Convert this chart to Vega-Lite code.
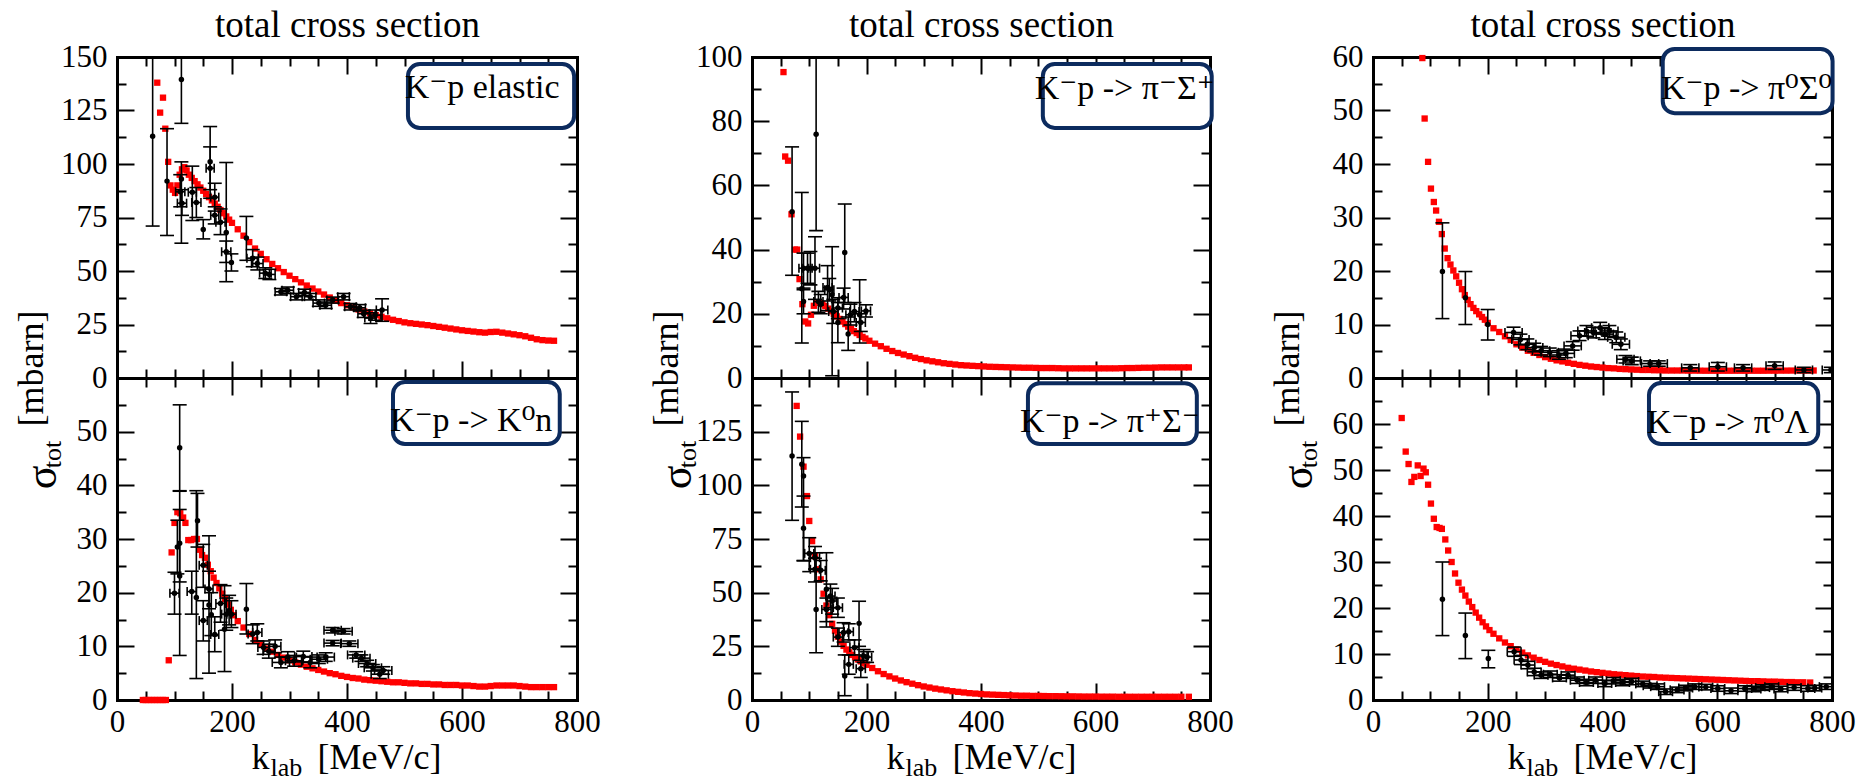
{
"$schema": "https://vega.github.io/schema/vega-lite/v6.json",
"background": "white",
"padding": {"left": 13, "top": 6, "right": 5, "bottom": 5},
"config": {
  "view": {"stroke": null},
  "font": "Liberation Serif",
  "axis": {"domainColor": "black", "domainWidth": 3, "domainCap": "square", "tickColor": "black", "tickWidth": 2, "labelColor": "black", "labelFont": "Liberation Serif", "labelFontSize": 31, "titleFont": "Liberation Serif", "titleFontWeight": "normal", "titleColor": "black", "grid": false, "labelFlush": false, "labelOverlap": false, "zindex": 1},
  "axisX": {"labelPadding": 24},
  "axisY": {"labelPadding": 27}
},
"datasets": {
"red1": [{"x":70,"y":138},{"x":75,"y":124},{"x":80,"y":131},{"x":84,"y":116.5},{"x":89,"y":101},{"x":93,"y":90},{"x":97,"y":88},{"x":101,"y":86.5},{"x":105,"y":90},{"x":109,"y":95},{"x":113,"y":97.5},{"x":117,"y":98.5},{"x":121,"y":97},{"x":125,"y":95},{"x":130,"y":93.5},{"x":135,"y":92},{"x":140,"y":90.5},{"x":145,"y":89},{"x":150,"y":87.5},{"x":155,"y":86},{"x":160,"y":84.5},{"x":165,"y":83},{"x":170,"y":81.5},{"x":175,"y":80},{"x":180,"y":78.5},{"x":185,"y":77},{"x":190,"y":75.5},{"x":195,"y":74},{"x":200,"y":72.5},{"x":210,"y":69.5},{"x":220,"y":66.5},{"x":230,"y":63.5},{"x":240,"y":60.5},{"x":250,"y":58},{"x":260,"y":55.5},{"x":270,"y":53.3},{"x":280,"y":51.3},{"x":290,"y":49.5},{"x":300,"y":47.8},{"x":310,"y":46.2},{"x":320,"y":44.7},{"x":330,"y":43.2},{"x":340,"y":41.8},{"x":350,"y":40.4},{"x":360,"y":39},{"x":370,"y":37.6},{"x":380,"y":36.2},{"x":390,"y":35},{"x":400,"y":34},{"x":410,"y":33},{"x":420,"y":32},{"x":430,"y":31.1},{"x":440,"y":30.2},{"x":450,"y":29.4},{"x":460,"y":28.6},{"x":470,"y":27.9},{"x":480,"y":27.2},{"x":490,"y":26.6},{"x":500,"y":26},{"x":510,"y":25.6},{"x":520,"y":25.3},{"x":530,"y":25},{"x":540,"y":24.7},{"x":550,"y":24.3},{"x":560,"y":23.9},{"x":570,"y":23.5},{"x":580,"y":23.1},{"x":590,"y":22.7},{"x":600,"y":22.3},{"x":610,"y":22},{"x":620,"y":21.7},{"x":630,"y":21.4},{"x":640,"y":21.2},{"x":650,"y":21.5},{"x":660,"y":21.6},{"x":670,"y":21.2},{"x":680,"y":20.8},{"x":690,"y":20.4},{"x":700,"y":20},{"x":710,"y":19.5},{"x":720,"y":18.8},{"x":730,"y":18.1},{"x":740,"y":17.7},{"x":750,"y":17.5},{"x":760,"y":17.4}],
"red2": [{"x":45,"y":0},{"x":50,"y":0},{"x":55,"y":0},{"x":60,"y":0},{"x":65,"y":0},{"x":70,"y":0},{"x":75,"y":0},{"x":80,"y":0},{"x":85,"y":0},{"x":90,"y":7.4},{"x":95,"y":27.5},{"x":100,"y":33},{"x":105,"y":35},{"x":110,"y":34.8},{"x":115,"y":34},{"x":119,"y":33},{"x":124,"y":29.8},{"x":129,"y":29.8},{"x":134,"y":30},{"x":139,"y":30},{"x":144,"y":28},{"x":148,"y":27},{"x":153,"y":26.5},{"x":158,"y":25.2},{"x":163,"y":24},{"x":168,"y":22.8},{"x":173,"y":21.8},{"x":178,"y":20.8},{"x":183,"y":19.8},{"x":188,"y":18.8},{"x":193,"y":17.8},{"x":198,"y":16.8},{"x":203,"y":15.8},{"x":210,"y":14.7},{"x":220,"y":13.5},{"x":230,"y":12.3},{"x":240,"y":11.2},{"x":250,"y":10.3},{"x":260,"y":9.6},{"x":270,"y":9},{"x":280,"y":8.4},{"x":290,"y":7.9},{"x":300,"y":7.4},{"x":310,"y":7},{"x":320,"y":6.6},{"x":330,"y":6.2},{"x":340,"y":5.9},{"x":350,"y":5.6},{"x":360,"y":5.3},{"x":370,"y":5},{"x":380,"y":4.8},{"x":390,"y":4.5},{"x":400,"y":4.3},{"x":410,"y":4.1},{"x":420,"y":4},{"x":430,"y":3.8},{"x":440,"y":3.7},{"x":450,"y":3.6},{"x":460,"y":3.5},{"x":470,"y":3.4},{"x":480,"y":3.3},{"x":490,"y":3.3},{"x":500,"y":3.2},{"x":510,"y":3.1},{"x":520,"y":3.1},{"x":530,"y":3},{"x":540,"y":3},{"x":550,"y":2.9},{"x":560,"y":2.9},{"x":570,"y":2.8},{"x":580,"y":2.8},{"x":590,"y":2.8},{"x":600,"y":2.7},{"x":610,"y":2.7},{"x":620,"y":2.6},{"x":630,"y":2.5},{"x":640,"y":2.5},{"x":650,"y":2.6},{"x":660,"y":2.7},{"x":670,"y":2.7},{"x":680,"y":2.7},{"x":690,"y":2.7},{"x":700,"y":2.6},{"x":710,"y":2.5},{"x":720,"y":2.4},{"x":730,"y":2.4},{"x":740,"y":2.4},{"x":750,"y":2.4},{"x":760,"y":2.4}],
"red3": [{"x":55,"y":95.3},{"x":58,"y":69},{"x":63,"y":67.7},{"x":69,"y":51},{"x":75,"y":40},{"x":79,"y":40},{"x":83,"y":30.8},{"x":88,"y":23},{"x":93,"y":17.6},{"x":98,"y":17},{"x":103,"y":19.7},{"x":108,"y":22.5},{"x":113,"y":23.5},{"x":118,"y":23.4},{"x":123,"y":23},{"x":128,"y":22.4},{"x":133,"y":21.6},{"x":138,"y":20.8},{"x":143,"y":20},{"x":148,"y":19.2},{"x":153,"y":18.4},{"x":158,"y":17.6},{"x":163,"y":16.8},{"x":168,"y":16},{"x":173,"y":15.3},{"x":178,"y":14.6},{"x":183,"y":14},{"x":188,"y":13.4},{"x":193,"y":12.8},{"x":198,"y":12.3},{"x":205,"y":11.6},{"x":215,"y":10.7},{"x":225,"y":9.9},{"x":235,"y":9.1},{"x":245,"y":8.4},{"x":255,"y":7.8},{"x":265,"y":7.3},{"x":275,"y":6.8},{"x":285,"y":6.3},{"x":295,"y":5.9},{"x":305,"y":5.5},{"x":315,"y":5.2},{"x":325,"y":4.9},{"x":335,"y":4.6},{"x":345,"y":4.4},{"x":355,"y":4.2},{"x":365,"y":4},{"x":375,"y":3.9},{"x":385,"y":3.8},{"x":395,"y":3.7},{"x":405,"y":3.6},{"x":415,"y":3.5},{"x":425,"y":3.45},{"x":435,"y":3.4},{"x":445,"y":3.35},{"x":455,"y":3.3},{"x":465,"y":3.25},{"x":475,"y":3.2},{"x":485,"y":3.2},{"x":495,"y":3.15},{"x":505,"y":3.1},{"x":515,"y":3.1},{"x":525,"y":3.1},{"x":535,"y":3.05},{"x":545,"y":3},{"x":555,"y":3},{"x":565,"y":3},{"x":575,"y":3},{"x":585,"y":3},{"x":595,"y":3},{"x":605,"y":3},{"x":615,"y":3},{"x":625,"y":3},{"x":635,"y":3},{"x":645,"y":3.05},{"x":655,"y":3.1},{"x":665,"y":3.1},{"x":675,"y":3.15},{"x":685,"y":3.2},{"x":695,"y":3.2},{"x":705,"y":3.25},{"x":715,"y":3.3},{"x":725,"y":3.3},{"x":735,"y":3.3},{"x":745,"y":3.3},{"x":755,"y":3.3},{"x":763,"y":3.3}],
"red4": [{"x":78,"y":137},{"x":84,"y":122.7},{"x":90,"y":108.7},{"x":96,"y":95},{"x":100,"y":83.4},{"x":105,"y":74},{"x":110,"y":67},{"x":115,"y":60.9},{"x":120,"y":56.2},{"x":125,"y":49.5},{"x":130,"y":44},{"x":135,"y":39.5},{"x":140,"y":35.5},{"x":145,"y":32.3},{"x":150,"y":29.5},{"x":155,"y":27.2},{"x":160,"y":25.2},{"x":165,"y":23.5},{"x":170,"y":22.2},{"x":175,"y":21},{"x":180,"y":19.9},{"x":185,"y":18.9},{"x":190,"y":18},{"x":195,"y":17.2},{"x":200,"y":16.4},{"x":210,"y":14.9},{"x":220,"y":13.4},{"x":230,"y":12.1},{"x":240,"y":11},{"x":250,"y":10},{"x":260,"y":9.1},{"x":270,"y":8.3},{"x":280,"y":7.6},{"x":290,"y":6.9},{"x":300,"y":6.3},{"x":310,"y":5.8},{"x":320,"y":5.3},{"x":330,"y":4.9},{"x":340,"y":4.5},{"x":350,"y":4.1},{"x":360,"y":3.8},{"x":370,"y":3.5},{"x":380,"y":3.2},{"x":390,"y":3},{"x":400,"y":2.8},{"x":410,"y":2.6},{"x":420,"y":2.5},{"x":430,"y":2.4},{"x":440,"y":2.3},{"x":450,"y":2.2},{"x":460,"y":2.1},{"x":470,"y":2},{"x":480,"y":2},{"x":490,"y":1.9},{"x":500,"y":1.9},{"x":510,"y":1.85},{"x":520,"y":1.8},{"x":530,"y":1.8},{"x":540,"y":1.75},{"x":550,"y":1.7},{"x":560,"y":1.7},{"x":570,"y":1.65},{"x":580,"y":1.6},{"x":590,"y":1.6},{"x":600,"y":1.6},{"x":610,"y":1.55},{"x":620,"y":1.55},{"x":630,"y":1.55},{"x":640,"y":1.5},{"x":650,"y":1.5},{"x":660,"y":1.5},{"x":670,"y":1.5},{"x":680,"y":1.5},{"x":690,"y":1.5},{"x":700,"y":1.5},{"x":710,"y":1.5},{"x":720,"y":1.5},{"x":730,"y":1.5},{"x":740,"y":1.5},{"x":750,"y":1.5},{"x":763,"y":1.5}],
"red5": [{"x":86,"y":59.8},{"x":90,"y":48.5},{"x":96,"y":40.4},{"x":101,"y":35.4},{"x":106,"y":32.9},{"x":110,"y":31.3},{"x":115,"y":29.2},{"x":120,"y":26.9},{"x":125,"y":24.2},{"x":130,"y":22.4},{"x":135,"y":21.2},{"x":140,"y":20.1},{"x":145,"y":19},{"x":150,"y":17.8},{"x":155,"y":16.6},{"x":160,"y":15.5},{"x":165,"y":14.6},{"x":170,"y":13.8},{"x":175,"y":13.1},{"x":180,"y":12.5},{"x":185,"y":11.9},{"x":190,"y":11.4},{"x":195,"y":10.9},{"x":200,"y":10.3},{"x":210,"y":9.3},{"x":220,"y":8.6},{"x":230,"y":7.8},{"x":240,"y":7.1},{"x":250,"y":6.3},{"x":260,"y":5.7},{"x":270,"y":5.1},{"x":280,"y":4.7},{"x":290,"y":4.3},{"x":300,"y":3.9},{"x":310,"y":3.6},{"x":320,"y":3.3},{"x":330,"y":3.1},{"x":340,"y":2.85},{"x":350,"y":2.65},{"x":360,"y":2.45},{"x":370,"y":2.3},{"x":380,"y":2.15},{"x":390,"y":2.05},{"x":400,"y":1.95},{"x":410,"y":1.85},{"x":420,"y":1.8},{"x":430,"y":1.7},{"x":440,"y":1.65},{"x":450,"y":1.6},{"x":460,"y":1.55},{"x":470,"y":1.5},{"x":480,"y":1.5},{"x":490,"y":1.45},{"x":500,"y":1.45},{"x":510,"y":1.4},{"x":520,"y":1.4},{"x":530,"y":1.4},{"x":540,"y":1.4},{"x":550,"y":1.38},{"x":560,"y":1.38},{"x":570,"y":1.37},{"x":580,"y":1.36},{"x":590,"y":1.36},{"x":600,"y":1.36},{"x":610,"y":1.36},{"x":620,"y":1.36},{"x":630,"y":1.36},{"x":640,"y":1.36},{"x":650,"y":1.36},{"x":660,"y":1.36},{"x":670,"y":1.36},{"x":680,"y":1.36},{"x":690,"y":1.37},{"x":700,"y":1.37},{"x":710,"y":1.38},{"x":720,"y":1.38},{"x":730,"y":1.39},{"x":740,"y":1.4},{"x":750,"y":1.4},{"x":760,"y":1.4},{"x":768,"y":1.4}],
"red6": [{"x":50,"y":61.3},{"x":57,"y":54},{"x":62,"y":51.3},{"x":67,"y":47.4},{"x":72,"y":48.5},{"x":78,"y":51},{"x":83,"y":48.7},{"x":88,"y":50.3},{"x":92,"y":49.5},{"x":96,"y":46.8},{"x":101,"y":42.7},{"x":106,"y":39.4},{"x":111,"y":37.6},{"x":116,"y":37.4},{"x":120,"y":37.2},{"x":126,"y":34.9},{"x":131,"y":32.5},{"x":137,"y":30},{"x":143,"y":27.5},{"x":149,"y":25.5},{"x":155,"y":24},{"x":161,"y":22.7},{"x":167,"y":21.4},{"x":173,"y":20.2},{"x":179,"y":19},{"x":185,"y":17.9},{"x":191,"y":16.9},{"x":197,"y":16},{"x":203,"y":15.2},{"x":210,"y":14.4},{"x":220,"y":13.4},{"x":230,"y":12.5},{"x":240,"y":11.7},{"x":250,"y":11},{"x":260,"y":10.3},{"x":270,"y":9.7},{"x":280,"y":9.2},{"x":290,"y":8.7},{"x":300,"y":8.3},{"x":310,"y":7.9},{"x":320,"y":7.6},{"x":330,"y":7.3},{"x":340,"y":7},{"x":350,"y":6.8},{"x":360,"y":6.6},{"x":370,"y":6.4},{"x":380,"y":6.2},{"x":390,"y":6.05},{"x":400,"y":5.9},{"x":410,"y":5.75},{"x":420,"y":5.6},{"x":430,"y":5.5},{"x":440,"y":5.4},{"x":450,"y":5.3},{"x":460,"y":5.2},{"x":470,"y":5.1},{"x":480,"y":5.05},{"x":490,"y":5},{"x":500,"y":4.9},{"x":510,"y":4.85},{"x":520,"y":4.8},{"x":530,"y":4.75},{"x":540,"y":4.7},{"x":550,"y":4.65},{"x":560,"y":4.6},{"x":570,"y":4.55},{"x":580,"y":4.5},{"x":590,"y":4.45},{"x":600,"y":4.4},{"x":610,"y":4.35},{"x":620,"y":4.3},{"x":630,"y":4.25},{"x":640,"y":4.2},{"x":650,"y":4.15},{"x":660,"y":4.1},{"x":670,"y":4.1},{"x":680,"y":4.05},{"x":690,"y":4},{"x":700,"y":4},{"x":710,"y":3.95},{"x":720,"y":3.9},{"x":730,"y":3.9},{"x":740,"y":3.85},{"x":750,"y":3.85},{"x":762,"y":3.8}],
"exp1": [{"x":62,"y":113,"yl":71,"yh":155},{"x":87,"y":92,"yl":66.6,"yh":116.5},{"x":112,"y":139.5,"yl":119,"yh":155},{"x":112,"y":93,"yl":63,"yh":101},{"x":110,"y":87,"yl":80,"yh":95,"xl":102,"xh":118},{"x":113,"y":81.7,"yl":76,"yh":88,"xl":105,"xh":121},{"x":131,"y":86.8,"yl":73.6,"yh":99,"xl":124,"xh":138},{"x":138,"y":82,"yl":75,"yh":89,"xl":130,"xh":146},{"x":150,"y":69.4,"yl":65,"yh":74},{"x":162,"y":101,"yl":84,"yh":117.5},{"x":162,"y":98,"yl":88,"yh":108,"xl":155,"xh":169},{"x":170,"y":84.5,"yl":78,"yh":91,"xl":163,"xh":177},{"x":170,"y":76,"yl":72,"yh":80,"xl":163,"xh":177},{"x":180,"y":72.8,"yl":67,"yh":79,"xl":172,"xh":188},{"x":190,"y":68,"yl":45,"yh":100.7},{"x":190,"y":59,"yl":54,"yh":64,"xl":182,"xh":198},{"x":199,"y":54,"yl":50,"yh":58},{"x":225,"y":65.4,"yl":55,"yh":75.5},{"x":236,"y":56,"yl":52,"yh":60,"xl":226,"xh":246},{"x":244,"y":53.5,"yl":50.5,"yh":56.5,"xl":234,"xh":254},{"x":258,"y":49,"yl":46.5,"yh":51.5,"xl":248,"xh":268},{"x":265,"y":48.4,"yl":46,"yh":50.8,"xl":255,"xh":275},{"x":285,"y":40.3,"yl":38.8,"yh":41.8,"xl":275,"xh":295},{"x":297,"y":41,"yl":39.5,"yh":42.5,"xl":287,"xh":307},{"x":312,"y":38,"yl":36.5,"yh":39.5,"xl":302,"xh":322},{"x":326,"y":40,"yl":38.5,"yh":41.5,"xl":316,"xh":336},{"x":336,"y":38,"yl":36.5,"yh":39.5,"xl":326,"xh":346},{"x":351,"y":35,"yl":33.5,"yh":36.5,"xl":341,"xh":361},{"x":363,"y":34,"yl":32.5,"yh":35.5,"xl":353,"xh":373},{"x":375,"y":36.4,"yl":35,"yh":37.8,"xl":365,"xh":385},{"x":394,"y":38,"yl":36.5,"yh":39.5,"xl":384,"xh":404},{"x":406,"y":33.3,"yl":31.8,"yh":34.8,"xl":396,"xh":416},{"x":422,"y":32.8,"yl":31.3,"yh":34.3,"xl":412,"xh":432},{"x":429,"y":30,"yl":28.3,"yh":31.7,"xl":419,"xh":439},{"x":441,"y":28,"yl":25.5,"yh":30.5,"xl":431,"xh":451},{"x":449,"y":29.4,"yl":27,"yh":31.8,"xl":439,"xh":459},{"x":461,"y":31.8,"yl":26.5,"yh":37,"xl":451,"xh":471}],
"exp2": [{"x":100,"y":19.9,"yl":16,"yh":23.8,"xl":92,"xh":108},{"x":105,"y":28.5,"yl":23.5,"yh":33.5},{"x":109,"y":47,"yl":39,"yh":55},{"x":109,"y":29.2,"yl":22,"yh":35.5},{"x":109,"y":23.1,"yl":8.3,"yh":38.9},{"x":130,"y":20.2,"yl":16,"yh":24,"xl":122,"xh":138},{"x":138,"y":19.1,"yl":4,"yh":39},{"x":140,"y":33.4,"yl":28.5,"yh":38.5},{"x":150,"y":25.1,"yl":21,"yh":29,"xl":143,"xh":157},{"x":150,"y":14.8,"yl":11,"yh":18.5,"xl":143,"xh":157},{"x":160,"y":20.7,"yl":17,"yh":24,"xl":153,"xh":167},{"x":160,"y":17.7,"yl":5,"yh":30.6},{"x":164,"y":15.9,"yl":12,"yh":20},{"x":170,"y":12.2,"yl":9,"yh":15.5,"xl":163,"xh":177},{"x":180,"y":18,"yl":14.5,"yh":21.5,"xl":172,"xh":188},{"x":187,"y":13.2,"yl":5.3,"yh":21.3},{"x":190,"y":16,"yl":13,"yh":19,"xl":182,"xh":198},{"x":195,"y":16.7,"yl":14,"yh":19.5},{"x":199,"y":16,"yl":13.5,"yh":18.5,"xl":191,"xh":207},{"x":225,"y":16.9,"yl":12.3,"yh":21.7},{"x":236,"y":12.3,"yl":10.5,"yh":14,"xl":228,"xh":244},{"x":244,"y":12.6,"yl":11,"yh":14.2,"xl":236,"xh":252},{"x":255,"y":9.8,"yl":8.5,"yh":11,"xl":245,"xh":265},{"x":264,"y":9.1,"yl":7.8,"yh":10.4,"xl":254,"xh":274},{"x":275,"y":10,"yl":8.8,"yh":11.2,"xl":265,"xh":285},{"x":285,"y":7,"yl":6,"yh":8,"xl":270,"xh":300},{"x":297,"y":8,"yl":7,"yh":9,"xl":282,"xh":312},{"x":308,"y":7.3,"yl":6.3,"yh":8.3,"xl":293,"xh":323},{"x":324,"y":8.1,"yl":7.1,"yh":9.1,"xl":309,"xh":339},{"x":336,"y":7,"yl":6,"yh":8,"xl":321,"xh":351},{"x":351,"y":7.6,"yl":6.8,"yh":8.4,"xl":336,"xh":366},{"x":363,"y":8,"yl":7.2,"yh":8.8,"xl":348,"xh":378},{"x":375,"y":10.6,"yl":10.1,"yh":11.1,"xl":360,"xh":390},{"x":375,"y":13,"yl":12.5,"yh":13.5,"xl":360,"xh":390},{"x":394,"y":12.8,"yl":12.3,"yh":13.3,"xl":379,"xh":409},{"x":404,"y":10.5,"yl":10,"yh":11,"xl":389,"xh":419},{"x":416,"y":8.4,"yl":7.8,"yh":9,"xl":401,"xh":431},{"x":425,"y":7.8,"yl":7.2,"yh":8.4,"xl":410,"xh":440},{"x":435,"y":6.8,"yl":6.2,"yh":7.4,"xl":420,"xh":450},{"x":445,"y":6,"yl":5.4,"yh":6.6,"xl":430,"xh":460},{"x":457,"y":4.8,"yl":4,"yh":5.6,"xl":442,"xh":472},{"x":463,"y":5.5,"yl":4.8,"yh":6.2,"xl":448,"xh":478}],
"exp3": [{"x":70,"y":51.8,"yl":32,"yh":72},{"x":87,"y":27.8,"yl":10.9,"yh":57.8},{"x":90,"y":34.2,"yl":28,"yh":38.9,"xl":82,"xh":98},{"x":90,"y":23.8,"yl":20,"yh":27.5},{"x":97,"y":34.2,"yl":29.5,"yh":38.9,"xl":89,"xh":105},{"x":102,"y":34.2,"yl":29,"yh":39.4},{"x":110,"y":34.2,"yl":24.5,"yh":44,"xl":102,"xh":118},{"x":112,"y":75.9,"yl":45.9,"yh":106},{"x":116,"y":23.8,"yl":20.5,"yh":27,"xl":108,"xh":124},{"x":120,"y":23,"yl":20,"yh":26},{"x":132,"y":28.2,"yl":21,"yh":35,"xl":124,"xh":140},{"x":135,"y":27.5,"yl":24,"yh":31,"xl":127,"xh":143},{"x":140,"y":25.9,"yl":0.7,"yh":40.9},{"x":142,"y":20.7,"yl":17,"yh":24.5,"xl":134,"xh":150},{"x":150,"y":17.3,"yl":11,"yh":23.5},{"x":150,"y":21.8,"yl":18.5,"yh":25,"xl":142,"xh":158},{"x":160,"y":25.1,"yl":21.5,"yh":28,"xl":152,"xh":168},{"x":162,"y":39.1,"yl":23.5,"yh":54.2},{"x":168,"y":13.7,"yl":8.6,"yh":19},{"x":172,"y":19.7,"yl":16.5,"yh":23,"xl":164,"xh":180},{"x":179,"y":20.7,"yl":17.5,"yh":23.5,"xl":171,"xh":187},{"x":188,"y":19.7,"yl":10.9,"yh":30.6},{"x":190,"y":17.3,"yl":14.5,"yh":20,"xl":182,"xh":198},{"x":199,"y":20.9,"yl":19,"yh":22.8,"xl":191,"xh":207}],
"exp4": [{"x":70,"y":113.7,"yl":83.7,"yh":143.5},{"x":87,"y":109.8,"yl":89.9,"yh":129.8},{"x":90,"y":104.3,"yl":64.8,"yh":112.9},{"x":90,"y":80,"yl":65,"yh":95},{"x":100,"y":68.3,"yl":59.8,"yh":75.6,"xl":92,"xh":108},{"x":110,"y":66.3,"yl":61,"yh":71.5,"xl":102,"xh":118},{"x":110,"y":60.9,"yl":55,"yh":66,"xl":102,"xh":118},{"x":112,"y":42.2,"yl":22,"yh":68.6},{"x":120,"y":60.4,"yl":55.5,"yh":65,"xl":112,"xh":128},{"x":130,"y":51.6,"yl":34,"yh":68.6},{"x":130,"y":42.2,"yl":36.5,"yh":47.5,"xl":122,"xh":138},{"x":137,"y":48.4,"yl":43,"yh":54,"xl":129,"xh":145},{"x":140,"y":46.1,"yl":40,"yh":52,"xl":132,"xh":148},{"x":150,"y":43,"yl":38.5,"yh":47.5,"xl":142,"xh":158},{"x":150,"y":29.3,"yl":25,"yh":33.5,"xl":142,"xh":158},{"x":160,"y":31.4,"yl":27,"yh":36,"xl":152,"xh":168},{"x":162,"y":11.2,"yl":2,"yh":21},{"x":169,"y":31.8,"yl":28,"yh":35.5,"xl":161,"xh":177},{"x":169,"y":16.6,"yl":12,"yh":21,"xl":161,"xh":177},{"x":179,"y":24.4,"yl":21,"yh":28,"xl":171,"xh":187},{"x":187,"y":35.7,"yl":25,"yh":46},{"x":190,"y":14.6,"yl":10.5,"yh":18.5,"xl":182,"xh":198},{"x":195,"y":20.5,"yl":17.5,"yh":23.5,"xl":187,"xh":203},{"x":201,"y":20,"yl":17.5,"yh":22.5,"xl":193,"xh":209}],
"exp5": [{"x":121,"y":19.9,"yl":11.1,"yh":29},{"x":161,"y":15,"yl":10,"yh":19.9},{"x":200,"y":10,"yl":7.1,"yh":12.8},{"x":245,"y":8.5,"yl":7.5,"yh":9.5,"xl":230,"xh":260},{"x":257,"y":7.2,"yl":6.2,"yh":8.2,"xl":242,"xh":272},{"x":269,"y":6.3,"yl":5.3,"yh":7.3,"xl":254,"xh":284},{"x":281,"y":5.7,"yl":4.9,"yh":6.5,"xl":266,"xh":296},{"x":293,"y":5.1,"yl":4.3,"yh":5.9,"xl":278,"xh":308},{"x":308,"y":4.8,"yl":4,"yh":5.6,"xl":293,"xh":323},{"x":324,"y":4.3,"yl":3.5,"yh":5.1,"xl":309,"xh":339},{"x":336,"y":4.6,"yl":3.8,"yh":5.4,"xl":321,"xh":351},{"x":348,"y":6,"yl":5.2,"yh":6.8,"xl":333,"xh":363},{"x":360,"y":7.9,"yl":7,"yh":8.8,"xl":345,"xh":375},{"x":372,"y":8.8,"yl":7.8,"yh":9.8,"xl":357,"xh":387},{"x":384,"y":8.5,"yl":7.5,"yh":9.5,"xl":369,"xh":399},{"x":396,"y":9.4,"yl":8.4,"yh":10.4,"xl":381,"xh":411},{"x":404,"y":8.2,"yl":7.2,"yh":9.2,"xl":389,"xh":419},{"x":412,"y":8.8,"yl":7.8,"yh":9.8,"xl":397,"xh":427},{"x":424,"y":7.6,"yl":6.6,"yh":8.6,"xl":409,"xh":439},{"x":432,"y":6.3,"yl":5.3,"yh":7.3,"xl":417,"xh":447},{"x":440,"y":3.5,"yl":2.8,"yh":4.2,"xl":425,"xh":455},{"x":451,"y":3.2,"yl":2.5,"yh":3.9,"xl":436,"xh":466},{"x":483,"y":2.7,"yl":2.2,"yh":3.2,"xl":468,"xh":498},{"x":498,"y":2.7,"yl":2.2,"yh":3.2,"xl":483,"xh":513},{"x":553,"y":1.9,"yl":1.3,"yh":2.5,"xl":538,"xh":568},{"x":601,"y":2.1,"yl":1.3,"yh":2.9,"xl":586,"xh":616},{"x":645,"y":1.9,"yl":1.3,"yh":2.5,"xl":630,"xh":660},{"x":700,"y":2.3,"yl":1.6,"yh":3,"xl":685,"xh":715},{"x":751,"y":1.5,"yl":1,"yh":2,"xl":736,"xh":766},{"x":798,"y":1.5,"yl":1,"yh":2,"xl":783,"xh":813}],
"exp6": [{"x":121,"y":21.9,"yl":14,"yh":30},{"x":161,"y":14,"yl":9,"yh":18.9},{"x":201,"y":9,"yl":7,"yh":10.8},{"x":246,"y":10.5,"yl":9.5,"yh":11.5,"xl":234,"xh":258},{"x":258,"y":8.7,"yl":7.7,"yh":9.7,"xl":246,"xh":270},{"x":270,"y":7.6,"yl":6.8,"yh":8.4,"xl":258,"xh":282},{"x":281,"y":6.1,"yl":5.3,"yh":6.9,"xl":269,"xh":293},{"x":293,"y":5.4,"yl":4.7,"yh":6.1,"xl":281,"xh":305},{"x":309,"y":5.6,"yl":4.9,"yh":6.3,"xl":297,"xh":321},{"x":325,"y":4.8,"yl":4.1,"yh":5.5,"xl":313,"xh":337},{"x":340,"y":5.4,"yl":4.7,"yh":6.1,"xl":328,"xh":352},{"x":356,"y":4.3,"yl":3.6,"yh":5,"xl":344,"xh":368},{"x":372,"y":3.8,"yl":3.1,"yh":4.5,"xl":360,"xh":384},{"x":388,"y":4.3,"yl":3.6,"yh":5,"xl":376,"xh":400},{"x":404,"y":3.6,"yl":2.9,"yh":4.3,"xl":392,"xh":416},{"x":419,"y":4.2,"yl":3.5,"yh":4.9,"xl":407,"xh":431},{"x":435,"y":3.8,"yl":3.1,"yh":4.5,"xl":423,"xh":447},{"x":451,"y":4,"yl":3.3,"yh":4.7,"xl":439,"xh":463},{"x":470,"y":3.5,"yl":2.9,"yh":4.1,"xl":458,"xh":482},{"x":483,"y":3.1,"yl":2.6,"yh":3.6,"xl":471,"xh":495},{"x":496,"y":2.9,"yl":2.3,"yh":3.5,"xl":484,"xh":508},{"x":510,"y":1.8,"yl":1.2,"yh":2.4,"xl":498,"xh":522},{"x":530,"y":2.2,"yl":1.6,"yh":2.8,"xl":518,"xh":542},{"x":545,"y":2.6,"yl":2,"yh":3.2,"xl":533,"xh":557},{"x":561,"y":2.9,"yl":2.3,"yh":3.5,"xl":549,"xh":573},{"x":580,"y":2.8,"yl":2.2,"yh":3.4,"xl":568,"xh":592},{"x":601,"y":2.5,"yl":1.9,"yh":3.1,"xl":589,"xh":613},{"x":624,"y":2,"yl":1.4,"yh":2.6,"xl":612,"xh":636},{"x":648,"y":2.5,"yl":1.9,"yh":3.1,"xl":636,"xh":660},{"x":664,"y":2.4,"yl":1.8,"yh":3,"xl":652,"xh":676},{"x":679,"y":2.7,"yl":2.1,"yh":3.3,"xl":667,"xh":691},{"x":695,"y":2.9,"yl":2.3,"yh":3.5,"xl":683,"xh":707},{"x":711,"y":2.4,"yl":1.8,"yh":3,"xl":699,"xh":723},{"x":734,"y":2.7,"yl":2.1,"yh":3.3,"xl":722,"xh":746},{"x":758,"y":2.5,"yl":1.9,"yh":3.1,"xl":746,"xh":770},{"x":770,"y":2.6,"yl":2,"yh":3.2,"xl":758,"xh":782},{"x":790,"y":2.9,"yl":2.3,"yh":3.5,"xl":778,"xh":802}]
},
"spacing": 635,
"bounds": "flush",
"hconcat": [
{
 "spacing": 0, "bounds": "flush",
 "vconcat": [
  {
   "width": 460, "height": 321,
   "resolve": {"axis": {"x": "independent", "y": "independent"}},
   "layer": [
    {"data": {"name": "red1"}, "mark": {"type": "square", "size": 40, "color": "#ff0000", "opacity": 1},
     "encoding": {
      "x": {"field": "x", "type": "quantitative", "scale": {"domain": [0, 800], "nice": false, "zero": false},
            "axis": {"orient": "bottom", "values": [0,50,100,150,200,250,300,350,400,450,500,550,600,650,700,750,800], "labels": false, "tickSize": {"condition": {"test": "datum.value % 200 === 0", "value": -17}, "value": -9}, "title": "[MeV/c]", "titleX": 200, "titleY": 390, "titleAlign": "left", "titleBaseline": "alphabetic", "titleAngle": 0, "titleFontSize": 36}},
      "y": {"field": "y", "type": "quantitative", "scale": {"domain": [0, 150], "nice": false, "zero": false},
            "axis": {"orient": "left", "values": [0,12.5,25,37.5,50,62.5,75,87.5,100,112.5,125,137.5,150], "labelExpr": "datum.value % 25 === 0 ? datum.label : ''", "tickSize": {"condition": {"test": "datum.value % 25 === 0", "value": -17}, "value": -9}, "title": "[mbarn]", "titleX": -75, "titleY": 311, "titleAlign": "center", "titleBaseline": "alphabetic", "titleAngle": 270, "titleFontSize": 36}}
     }},
    {"data": {"name": "exp1"}, "mark": {"type": "rule", "color": "black", "strokeWidth": 1.6, "clip": true},
     "encoding": {"x": {"field": "x", "type": "quantitative", "axis": null}, "y": {"field": "yl", "type": "quantitative", "axis": null}, "y2": {"field": "yh"}}},
    {"data": {"name": "exp1"}, "transform": [{"fold": ["yl", "yh"]}], "mark": {"type": "tick", "orient": "horizontal", "size": 14, "thickness": 1.6, "color": "black", "opacity": 1, "clip": true},
     "encoding": {"x": {"field": "x", "type": "quantitative", "axis": null}, "y": {"field": "value", "type": "quantitative", "axis": null}}},
    {"data": {"name": "exp1"}, "transform": [{"filter": "isValid(datum.xl)"}], "mark": {"type": "rule", "color": "black", "strokeWidth": 1.6, "clip": true},
     "encoding": {"x": {"field": "xl", "type": "quantitative", "axis": null}, "x2": {"field": "xh"}, "y": {"field": "y", "type": "quantitative", "axis": null}}},
    {"data": {"name": "exp1"}, "transform": [{"filter": "isValid(datum.xl)"}, {"fold": ["xl", "xh"]}], "mark": {"type": "tick", "orient": "vertical", "size": 9, "thickness": 1.6, "color": "black", "opacity": 1, "clip": true},
     "encoding": {"x": {"field": "value", "type": "quantitative", "axis": null}, "y": {"field": "y", "type": "quantitative", "axis": null}}},
    {"data": {"name": "exp1"}, "mark": {"type": "circle", "size": 30, "color": "black", "opacity": 1},
     "encoding": {
      "x": {"field": "x", "type": "quantitative", "axis": {"orient": "top", "values": [0,50,100,150,200,250,300,350,400,450,500,550,600,650,700,750,800], "labels": false, "tickSize": {"condition": {"test": "datum.value % 200 === 0", "value": -17}, "value": -9}, "title": "total cross section", "titleX": 230, "titleY": -21, "titleAlign": "center", "titleBaseline": "alphabetic", "titleAngle": 0, "titleFontSize": 37}},
      "y": {"field": "y", "type": "quantitative", "axis": {"orient": "right", "values": [0,12.5,25,37.5,50,62.5,75,87.5,100,112.5,125,137.5,150], "labels": false, "tickSize": {"condition": {"test": "datum.value % 25 === 0", "value": -17}, "value": -9}, "title": null}}
     }},
    {"data": {"values": [{"t": "K⁻p elastic"}]}, "mark": {"type": "rect", "fill": "white", "stroke": "#0c2b5e", "strokeWidth": 4, "cornerRadius": 12},
     "encoding": {"x": {"datum": 506, "type": "quantitative", "axis": null}, "x2": {"datum": 795}, "y": {"datum": 116.8, "type": "quantitative", "axis": null}, "y2": {"datum": 146.7}}},
    {"data": {"values": [{"t": "K⁻p elastic"}]}, "mark": {"type": "text", "font": "Liberation Serif, DejaVu Serif", "fontSize": 34, "baseline": "alphabetic", "align": "center", "color": "black"},
     "encoding": {"x": {"datum": 635, "type": "quantitative", "axis": null}, "y": {"datum": 130.8, "type": "quantitative", "axis": null}, "text": {"field": "t"}}}
   ]
  },
  {
   "width": 460, "height": 322,
   "resolve": {"axis": {"x": "independent", "y": "independent"}},
   "layer": [
    {"data": {"name": "red2"}, "mark": {"type": "square", "size": 40, "color": "#ff0000", "opacity": 1},
     "encoding": {
      "x": {"field": "x", "type": "quantitative", "scale": {"domain": [0, 800], "nice": false, "zero": false},
            "axis": {"orient": "bottom", "values": [0,50,100,150,200,250,300,350,400,450,500,550,600,650,700,750,800], "labelExpr": "datum.value % 200 === 0 ? datum.label : ''", "tickSize": {"condition": {"test": "datum.value % 200 === 0", "value": -17}, "value": -9}, "title": "k", "titleX": 143, "titleY": 68, "titleAlign": "center", "titleBaseline": "alphabetic", "titleAngle": 0, "titleFontSize": 36}},
      "y": {"field": "y", "type": "quantitative", "scale": {"domain": [0, 60], "nice": false, "zero": false},
            "axis": {"orient": "left", "values": [0,5,10,15,20,25,30,35,40,45,50,55,60], "labelExpr": "datum.value % 10 === 0 && datum.value < 60 ? datum.label : ''", "tickSize": {"condition": {"test": "datum.value % 10 === 0", "value": -17}, "value": -9}, "title": "σ", "titleX": -62, "titleY": 99, "titleAlign": "center", "titleBaseline": "alphabetic", "titleAngle": 270, "titleFontSize": 44}}
     }},
    {"data": {"name": "exp2"}, "mark": {"type": "rule", "color": "black", "strokeWidth": 1.6, "clip": true},
     "encoding": {"x": {"field": "x", "type": "quantitative", "axis": null}, "y": {"field": "yl", "type": "quantitative", "axis": null}, "y2": {"field": "yh"}}},
    {"data": {"name": "exp2"}, "transform": [{"fold": ["yl", "yh"]}], "mark": {"type": "tick", "orient": "horizontal", "size": 14, "thickness": 1.6, "color": "black", "opacity": 1, "clip": true},
     "encoding": {"x": {"field": "x", "type": "quantitative", "axis": null}, "y": {"field": "value", "type": "quantitative", "axis": null}}},
    {"data": {"name": "exp2"}, "transform": [{"filter": "isValid(datum.xl)"}], "mark": {"type": "rule", "color": "black", "strokeWidth": 1.6, "clip": true},
     "encoding": {"x": {"field": "xl", "type": "quantitative", "axis": null}, "x2": {"field": "xh"}, "y": {"field": "y", "type": "quantitative", "axis": null}}},
    {"data": {"name": "exp2"}, "transform": [{"filter": "isValid(datum.xl)"}, {"fold": ["xl", "xh"]}], "mark": {"type": "tick", "orient": "vertical", "size": 9, "thickness": 1.6, "color": "black", "opacity": 1, "clip": true},
     "encoding": {"x": {"field": "value", "type": "quantitative", "axis": null}, "y": {"field": "y", "type": "quantitative", "axis": null}}},
    {"data": {"name": "exp2"}, "mark": {"type": "circle", "size": 30, "color": "black", "opacity": 1},
     "encoding": {
      "x": {"field": "x", "type": "quantitative", "axis": {"orient": "top", "values": [0,50,100,150,200,250,300,350,400,450,500,550,600,650,700,750,800], "labels": false, "tickSize": {"condition": {"test": "datum.value % 200 === 0", "value": -17}, "value": -9}, "title": "lab", "titleX": 153, "titleY": 397, "titleAlign": "left", "titleBaseline": "alphabetic", "titleAngle": 0, "titleFontSize": 26}},
      "y": {"field": "y", "type": "quantitative", "axis": {"orient": "right", "values": [0,5,10,15,20,25,30,35,40,45,50,55,60], "labels": false, "tickSize": {"condition": {"test": "datum.value % 10 === 0", "value": -17}, "value": -9}, "title": "tot", "titleX": -517, "titleY": 76, "titleAlign": "center", "titleBaseline": "alphabetic", "titleAngle": 270, "titleFontSize": 26}}
     }},
    {"data": {"values": [{"t": "K⁻p -> K⁰n"}]}, "mark": {"type": "rect", "fill": "white", "stroke": "#0c2b5e", "strokeWidth": 4, "cornerRadius": 12},
     "encoding": {"x": {"datum": 480, "type": "quantitative", "axis": null}, "x2": {"datum": 770}, "y": {"datum": 47.7, "type": "quantitative", "axis": null}, "y2": {"datum": 59.25}}},
    {"data": {"values": [{"t": "K⁻p -> K⁰n"}]}, "mark": {"type": "text", "font": "Liberation Serif, DejaVu Serif", "fontSize": 34, "baseline": "alphabetic", "align": "center", "color": "black"},
     "encoding": {"x": {"datum": 616, "type": "quantitative", "axis": null}, "y": {"datum": 50.1, "type": "quantitative", "axis": null}, "text": {"field": "t"}}}
   ]
  }
 ]
},
{
 "spacing": 621, "bounds": "flush",
 "hconcat": [
 {
 "spacing": 0, "bounds": "flush",
 "vconcat": [
  {
   "width": 458, "height": 321,
   "resolve": {"axis": {"x": "independent", "y": "independent"}},
   "layer": [
    {"data": {"name": "red3"}, "mark": {"type": "square", "size": 40, "color": "#ff0000", "opacity": 1},
     "encoding": {
      "x": {"field": "x", "type": "quantitative", "scale": {"domain": [0, 800], "nice": false, "zero": false},
            "axis": {"orient": "bottom", "values": [0,50,100,150,200,250,300,350,400,450,500,550,600,650,700,750,800], "labels": false, "tickSize": {"condition": {"test": "datum.value % 200 === 0", "value": -17}, "value": -9}, "title": "[MeV/c]", "titleX": 200, "titleY": 390, "titleAlign": "left", "titleBaseline": "alphabetic", "titleAngle": 0, "titleFontSize": 36}},
      "y": {"field": "y", "type": "quantitative", "scale": {"domain": [0, 100], "nice": false, "zero": false},
            "axis": {"orient": "left", "values": [0,10,20,30,40,50,60,70,80,90,100], "labelExpr": "datum.value % 20 === 0 ? datum.label : ''", "tickSize": {"condition": {"test": "datum.value % 20 === 0", "value": -17}, "value": -9}, "title": "[mbarn]", "titleX": -75, "titleY": 311, "titleAlign": "center", "titleBaseline": "alphabetic", "titleAngle": 270, "titleFontSize": 36}}
     }},
    {"data": {"name": "exp3"}, "mark": {"type": "rule", "color": "black", "strokeWidth": 1.6, "clip": true},
     "encoding": {"x": {"field": "x", "type": "quantitative", "axis": null}, "y": {"field": "yl", "type": "quantitative", "axis": null}, "y2": {"field": "yh"}}},
    {"data": {"name": "exp3"}, "transform": [{"fold": ["yl", "yh"]}], "mark": {"type": "tick", "orient": "horizontal", "size": 14, "thickness": 1.6, "color": "black", "opacity": 1, "clip": true},
     "encoding": {"x": {"field": "x", "type": "quantitative", "axis": null}, "y": {"field": "value", "type": "quantitative", "axis": null}}},
    {"data": {"name": "exp3"}, "transform": [{"filter": "isValid(datum.xl)"}], "mark": {"type": "rule", "color": "black", "strokeWidth": 1.6, "clip": true},
     "encoding": {"x": {"field": "xl", "type": "quantitative", "axis": null}, "x2": {"field": "xh"}, "y": {"field": "y", "type": "quantitative", "axis": null}}},
    {"data": {"name": "exp3"}, "transform": [{"filter": "isValid(datum.xl)"}, {"fold": ["xl", "xh"]}], "mark": {"type": "tick", "orient": "vertical", "size": 9, "thickness": 1.6, "color": "black", "opacity": 1, "clip": true},
     "encoding": {"x": {"field": "value", "type": "quantitative", "axis": null}, "y": {"field": "y", "type": "quantitative", "axis": null}}},
    {"data": {"name": "exp3"}, "mark": {"type": "circle", "size": 30, "color": "black", "opacity": 1},
     "encoding": {
      "x": {"field": "x", "type": "quantitative", "axis": {"orient": "top", "values": [0,50,100,150,200,250,300,350,400,450,500,550,600,650,700,750,800], "labels": false, "tickSize": {"condition": {"test": "datum.value % 200 === 0", "value": -17}, "value": -9}, "title": "total cross section", "titleX": 229, "titleY": -21, "titleAlign": "center", "titleBaseline": "alphabetic", "titleAngle": 0, "titleFontSize": 37}},
      "y": {"field": "y", "type": "quantitative", "axis": {"orient": "right", "values": [0,10,20,30,40,50,60,70,80,90,100], "labels": false, "tickSize": {"condition": {"test": "datum.value % 20 === 0", "value": -17}, "value": -9}, "title": null}}
     }},
    {"data": {"values": [{"t": "K⁻p -> π⁻Σ⁺"}]}, "mark": {"type": "rect", "fill": "white", "stroke": "#0c2b5e", "strokeWidth": 4, "cornerRadius": 12},
     "encoding": {"x": {"datum": 508, "type": "quantitative", "axis": null}, "x2": {"datum": 803}, "y": {"datum": 77.9, "type": "quantitative", "axis": null}, "y2": {"datum": 97.8}}},
    {"data": {"values": [{"t": "K⁻p -> π⁻Σ⁺"}]}, "mark": {"type": "text", "font": "Liberation Serif, DejaVu Serif", "fontSize": 34, "baseline": "alphabetic", "align": "center", "color": "black"},
     "encoding": {"x": {"datum": 651, "type": "quantitative", "axis": null}, "y": {"datum": 86.9, "type": "quantitative", "axis": null}, "text": {"field": "t"}}}
   ]
  },
  {
   "width": 458, "height": 322,
   "resolve": {"axis": {"x": "independent", "y": "independent"}},
   "layer": [
    {"data": {"name": "red4"}, "mark": {"type": "square", "size": 40, "color": "#ff0000", "opacity": 1},
     "encoding": {
      "x": {"field": "x", "type": "quantitative", "scale": {"domain": [0, 800], "nice": false, "zero": false},
            "axis": {"orient": "bottom", "values": [0,50,100,150,200,250,300,350,400,450,500,550,600,650,700,750,800], "labelExpr": "datum.value % 200 === 0 ? datum.label : ''", "tickSize": {"condition": {"test": "datum.value % 200 === 0", "value": -17}, "value": -9}, "title": "k", "titleX": 143, "titleY": 68, "titleAlign": "center", "titleBaseline": "alphabetic", "titleAngle": 0, "titleFontSize": 36}},
      "y": {"field": "y", "type": "quantitative", "scale": {"domain": [0, 150], "nice": false, "zero": false},
            "axis": {"orient": "left", "values": [0,12.5,25,37.5,50,62.5,75,87.5,100,112.5,125,137.5,150], "labelExpr": "datum.value % 25 === 0 && datum.value < 150 ? datum.label : ''", "tickSize": {"condition": {"test": "datum.value % 25 === 0", "value": -17}, "value": -9}, "title": "σ", "titleX": -62, "titleY": 99, "titleAlign": "center", "titleBaseline": "alphabetic", "titleAngle": 270, "titleFontSize": 44}}
     }},
    {"data": {"name": "exp4"}, "mark": {"type": "rule", "color": "black", "strokeWidth": 1.6, "clip": true},
     "encoding": {"x": {"field": "x", "type": "quantitative", "axis": null}, "y": {"field": "yl", "type": "quantitative", "axis": null}, "y2": {"field": "yh"}}},
    {"data": {"name": "exp4"}, "transform": [{"fold": ["yl", "yh"]}], "mark": {"type": "tick", "orient": "horizontal", "size": 14, "thickness": 1.6, "color": "black", "opacity": 1, "clip": true},
     "encoding": {"x": {"field": "x", "type": "quantitative", "axis": null}, "y": {"field": "value", "type": "quantitative", "axis": null}}},
    {"data": {"name": "exp4"}, "transform": [{"filter": "isValid(datum.xl)"}], "mark": {"type": "rule", "color": "black", "strokeWidth": 1.6, "clip": true},
     "encoding": {"x": {"field": "xl", "type": "quantitative", "axis": null}, "x2": {"field": "xh"}, "y": {"field": "y", "type": "quantitative", "axis": null}}},
    {"data": {"name": "exp4"}, "transform": [{"filter": "isValid(datum.xl)"}, {"fold": ["xl", "xh"]}], "mark": {"type": "tick", "orient": "vertical", "size": 9, "thickness": 1.6, "color": "black", "opacity": 1, "clip": true},
     "encoding": {"x": {"field": "value", "type": "quantitative", "axis": null}, "y": {"field": "y", "type": "quantitative", "axis": null}}},
    {"data": {"name": "exp4"}, "mark": {"type": "circle", "size": 30, "color": "black", "opacity": 1},
     "encoding": {
      "x": {"field": "x", "type": "quantitative", "axis": {"orient": "top", "values": [0,50,100,150,200,250,300,350,400,450,500,550,600,650,700,750,800], "labels": false, "tickSize": {"condition": {"test": "datum.value % 200 === 0", "value": -17}, "value": -9}, "title": "lab", "titleX": 153, "titleY": 397, "titleAlign": "left", "titleBaseline": "alphabetic", "titleAngle": 0, "titleFontSize": 26}},
      "y": {"field": "y", "type": "quantitative", "axis": {"orient": "right", "values": [0,12.5,25,37.5,50,62.5,75,87.5,100,112.5,125,137.5,150], "labels": false, "tickSize": {"condition": {"test": "datum.value % 25 === 0", "value": -17}, "value": -9}, "title": "tot", "titleX": -515, "titleY": 76, "titleAlign": "center", "titleBaseline": "alphabetic", "titleAngle": 270, "titleFontSize": 26}}
     }},
    {"data": {"values": [{"t": "K⁻p -> π⁺Σ⁻"}]}, "mark": {"type": "rect", "fill": "white", "stroke": "#0c2b5e", "strokeWidth": 4, "cornerRadius": 12},
     "encoding": {"x": {"datum": 482, "type": "quantitative", "axis": null}, "x2": {"datum": 777}, "y": {"datum": 119.2, "type": "quantitative", "axis": null}, "y2": {"datum": 147.6}}},
    {"data": {"values": [{"t": "K⁻p -> π⁺Σ⁻"}]}, "mark": {"type": "text", "font": "Liberation Serif, DejaVu Serif", "fontSize": 34, "baseline": "alphabetic", "align": "center", "color": "black"},
     "encoding": {"x": {"datum": 625, "type": "quantitative", "axis": null}, "y": {"datum": 124.8, "type": "quantitative", "axis": null}, "text": {"field": "t"}}}
   ]
  }
 ]
 },
 {
 "spacing": 0, "bounds": "flush",
 "vconcat": [
  {
   "width": 459, "height": 321,
   "resolve": {"axis": {"x": "independent", "y": "independent"}},
   "layer": [
    {"data": {"name": "red5"}, "mark": {"type": "square", "size": 40, "color": "#ff0000", "opacity": 1},
     "encoding": {
      "x": {"field": "x", "type": "quantitative", "scale": {"domain": [0, 800], "nice": false, "zero": false},
            "axis": {"orient": "bottom", "values": [0,50,100,150,200,250,300,350,400,450,500,550,600,650,700,750,800], "labels": false, "tickSize": {"condition": {"test": "datum.value % 200 === 0", "value": -17}, "value": -9}, "title": "[MeV/c]", "titleX": 200, "titleY": 390, "titleAlign": "left", "titleBaseline": "alphabetic", "titleAngle": 0, "titleFontSize": 36}},
      "y": {"field": "y", "type": "quantitative", "scale": {"domain": [0, 60], "nice": false, "zero": false},
            "axis": {"orient": "left", "values": [0,5,10,15,20,25,30,35,40,45,50,55,60], "labelExpr": "datum.value % 10 === 0 ? datum.label : ''", "tickSize": {"condition": {"test": "datum.value % 10 === 0", "value": -17}, "value": -9}, "title": "[mbarn]", "titleX": -75, "titleY": 311, "titleAlign": "center", "titleBaseline": "alphabetic", "titleAngle": 270, "titleFontSize": 36}}
     }},
    {"data": {"name": "exp5"}, "mark": {"type": "rule", "color": "black", "strokeWidth": 1.6, "clip": true},
     "encoding": {"x": {"field": "x", "type": "quantitative", "axis": null}, "y": {"field": "yl", "type": "quantitative", "axis": null}, "y2": {"field": "yh"}}},
    {"data": {"name": "exp5"}, "transform": [{"fold": ["yl", "yh"]}], "mark": {"type": "tick", "orient": "horizontal", "size": 14, "thickness": 1.6, "color": "black", "opacity": 1, "clip": true},
     "encoding": {"x": {"field": "x", "type": "quantitative", "axis": null}, "y": {"field": "value", "type": "quantitative", "axis": null}}},
    {"data": {"name": "exp5"}, "transform": [{"filter": "isValid(datum.xl)"}], "mark": {"type": "rule", "color": "black", "strokeWidth": 1.6, "clip": true},
     "encoding": {"x": {"field": "xl", "type": "quantitative", "axis": null}, "x2": {"field": "xh"}, "y": {"field": "y", "type": "quantitative", "axis": null}}},
    {"data": {"name": "exp5"}, "transform": [{"filter": "isValid(datum.xl)"}, {"fold": ["xl", "xh"]}], "mark": {"type": "tick", "orient": "vertical", "size": 9, "thickness": 1.6, "color": "black", "opacity": 1, "clip": true},
     "encoding": {"x": {"field": "value", "type": "quantitative", "axis": null}, "y": {"field": "y", "type": "quantitative", "axis": null}}},
    {"data": {"name": "exp5"}, "mark": {"type": "circle", "size": 30, "color": "black", "opacity": 1},
     "encoding": {
      "x": {"field": "x", "type": "quantitative", "axis": {"orient": "top", "values": [0,50,100,150,200,250,300,350,400,450,500,550,600,650,700,750,800], "labels": false, "tickSize": {"condition": {"test": "datum.value % 200 === 0", "value": -17}, "value": -9}, "title": "total cross section", "titleX": 229.5, "titleY": -21, "titleAlign": "center", "titleBaseline": "alphabetic", "titleAngle": 0, "titleFontSize": 37}},
      "y": {"field": "y", "type": "quantitative", "axis": {"orient": "right", "values": [0,5,10,15,20,25,30,35,40,45,50,55,60], "labels": false, "tickSize": {"condition": {"test": "datum.value % 10 === 0", "value": -17}, "value": -9}, "title": null}}
     }},
    {"data": {"values": [{"t": "K⁻p -> π⁰Σ⁰"}]}, "mark": {"type": "rect", "fill": "white", "stroke": "#0c2b5e", "strokeWidth": 4, "cornerRadius": 12},
     "encoding": {"x": {"datum": 505, "type": "quantitative", "axis": null}, "x2": {"datum": 801}, "y": {"datum": 49.5, "type": "quantitative", "axis": null}, "y2": {"datum": 61.5}}},
    {"data": {"values": [{"t": "K⁻p -> π⁰Σ⁰"}]}, "mark": {"type": "text", "font": "Liberation Serif, DejaVu Serif", "fontSize": 34, "baseline": "alphabetic", "align": "center", "color": "black"},
     "encoding": {"x": {"datum": 651, "type": "quantitative", "axis": null}, "y": {"datum": 52.1, "type": "quantitative", "axis": null}, "text": {"field": "t"}}}
   ]
  },
  {
   "width": 459, "height": 322,
   "resolve": {"axis": {"x": "independent", "y": "independent"}},
   "layer": [
    {"data": {"name": "red6"}, "mark": {"type": "square", "size": 40, "color": "#ff0000", "opacity": 1},
     "encoding": {
      "x": {"field": "x", "type": "quantitative", "scale": {"domain": [0, 800], "nice": false, "zero": false},
            "axis": {"orient": "bottom", "values": [0,50,100,150,200,250,300,350,400,450,500,550,600,650,700,750,800], "labelExpr": "datum.value % 200 === 0 ? datum.label : ''", "tickSize": {"condition": {"test": "datum.value % 200 === 0", "value": -17}, "value": -9}, "title": "k", "titleX": 143, "titleY": 68, "titleAlign": "center", "titleBaseline": "alphabetic", "titleAngle": 0, "titleFontSize": 36}},
      "y": {"field": "y", "type": "quantitative", "scale": {"domain": [0, 70], "nice": false, "zero": false},
            "axis": {"orient": "left", "values": [0,5,10,15,20,25,30,35,40,45,50,55,60,65,70], "labelExpr": "datum.value % 10 === 0 && datum.value < 70 ? datum.label : ''", "tickSize": {"condition": {"test": "datum.value % 10 === 0", "value": -17}, "value": -9}, "title": "σ", "titleX": -62, "titleY": 99, "titleAlign": "center", "titleBaseline": "alphabetic", "titleAngle": 270, "titleFontSize": 44}}
     }},
    {"data": {"name": "exp6"}, "mark": {"type": "rule", "color": "black", "strokeWidth": 1.6, "clip": true},
     "encoding": {"x": {"field": "x", "type": "quantitative", "axis": null}, "y": {"field": "yl", "type": "quantitative", "axis": null}, "y2": {"field": "yh"}}},
    {"data": {"name": "exp6"}, "transform": [{"fold": ["yl", "yh"]}], "mark": {"type": "tick", "orient": "horizontal", "size": 14, "thickness": 1.6, "color": "black", "opacity": 1, "clip": true},
     "encoding": {"x": {"field": "x", "type": "quantitative", "axis": null}, "y": {"field": "value", "type": "quantitative", "axis": null}}},
    {"data": {"name": "exp6"}, "transform": [{"filter": "isValid(datum.xl)"}], "mark": {"type": "rule", "color": "black", "strokeWidth": 1.6, "clip": true},
     "encoding": {"x": {"field": "xl", "type": "quantitative", "axis": null}, "x2": {"field": "xh"}, "y": {"field": "y", "type": "quantitative", "axis": null}}},
    {"data": {"name": "exp6"}, "transform": [{"filter": "isValid(datum.xl)"}, {"fold": ["xl", "xh"]}], "mark": {"type": "tick", "orient": "vertical", "size": 9, "thickness": 1.6, "color": "black", "opacity": 1, "clip": true},
     "encoding": {"x": {"field": "value", "type": "quantitative", "axis": null}, "y": {"field": "y", "type": "quantitative", "axis": null}}},
    {"data": {"name": "exp6"}, "mark": {"type": "circle", "size": 30, "color": "black", "opacity": 1},
     "encoding": {
      "x": {"field": "x", "type": "quantitative", "axis": {"orient": "top", "values": [0,50,100,150,200,250,300,350,400,450,500,550,600,650,700,750,800], "labels": false, "tickSize": {"condition": {"test": "datum.value % 200 === 0", "value": -17}, "value": -9}, "title": "lab", "titleX": 153, "titleY": 397, "titleAlign": "left", "titleBaseline": "alphabetic", "titleAngle": 0, "titleFontSize": 26}},
      "y": {"field": "y", "type": "quantitative", "axis": {"orient": "right", "values": [0,5,10,15,20,25,30,35,40,45,50,55,60,65,70], "labels": false, "tickSize": {"condition": {"test": "datum.value % 10 === 0", "value": -17}, "value": -9}, "title": "tot", "titleX": -516, "titleY": 76, "titleAlign": "center", "titleBaseline": "alphabetic", "titleAngle": 270, "titleFontSize": 26}}
     }},
    {"data": {"values": [{"t": "K⁻p -> π⁰Λ"}]}, "mark": {"type": "rect", "fill": "white", "stroke": "#0c2b5e", "strokeWidth": 4, "cornerRadius": 12},
     "encoding": {"x": {"datum": 481, "type": "quantitative", "axis": null}, "x2": {"datum": 776}, "y": {"datum": 55.65, "type": "quantitative", "axis": null}, "y2": {"datum": 68.9}}},
    {"data": {"values": [{"t": "K⁻p -> π⁰Λ"}]}, "mark": {"type": "text", "font": "Liberation Serif, DejaVu Serif", "fontSize": 34, "baseline": "alphabetic", "align": "center", "color": "black"},
     "encoding": {"x": {"datum": 618.5, "type": "quantitative", "axis": null}, "y": {"datum": 58, "type": "quantitative", "axis": null}, "text": {"field": "t"}}}
   ]
  }
 ]
 }
 ]
}
]
}
